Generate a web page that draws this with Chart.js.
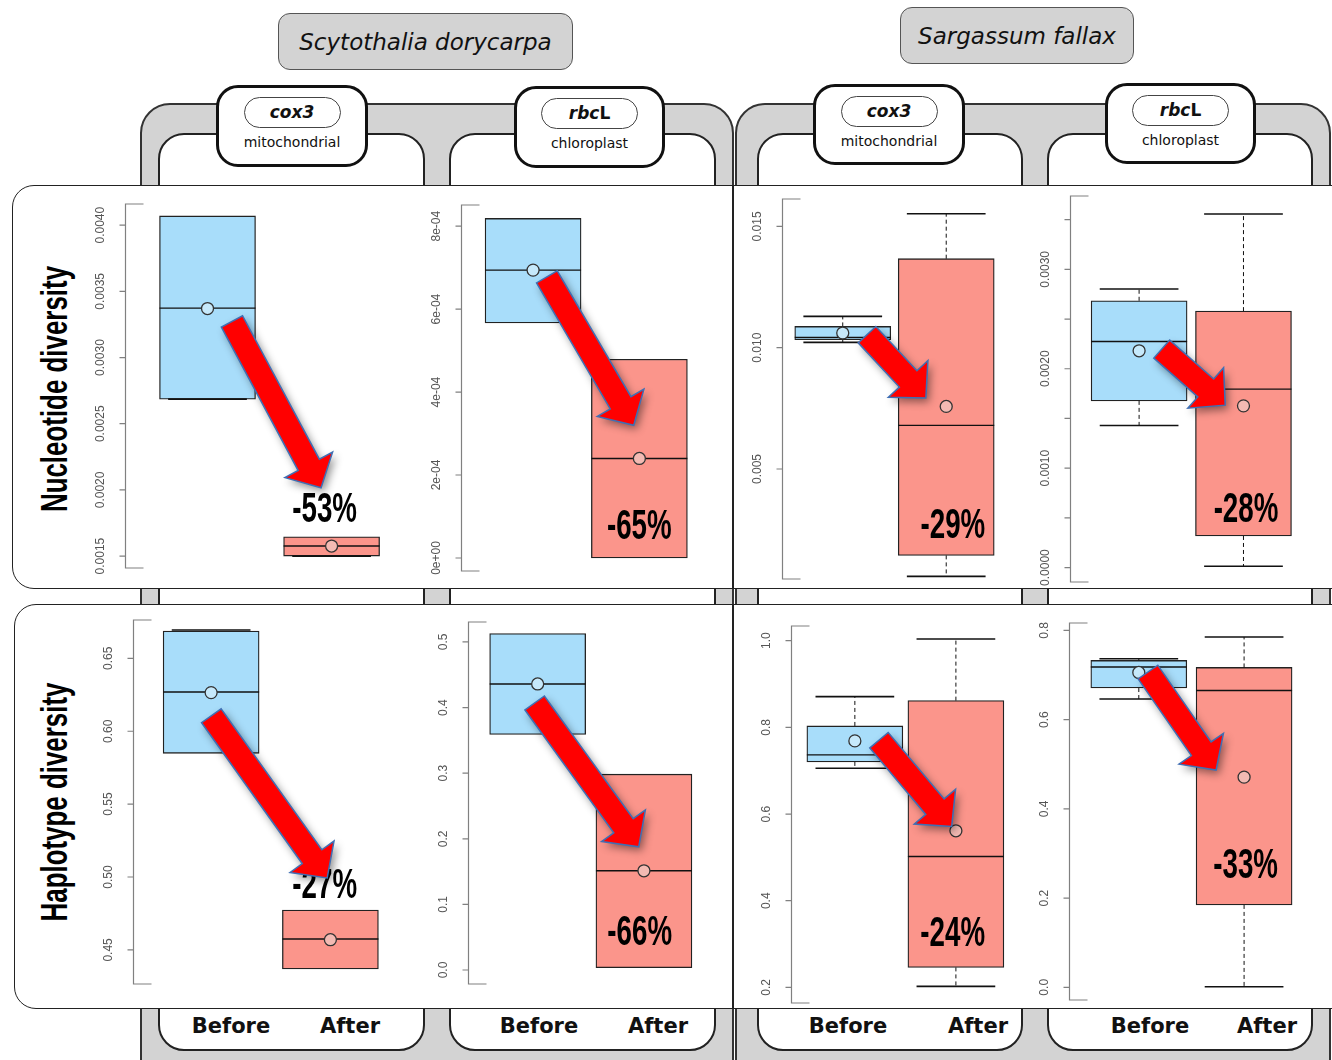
<!DOCTYPE html>
<html>
<head>
<meta charset="utf-8">
<script src="https://cdn.jsdelivr.net/npm/chart.js@4.4.1/dist/chart.umd.min.js"></script>
<style>
body { margin: 0; background: #fff; }
#page { position: relative; width: 1332px; height: 1060px; overflow: hidden; background: #fff; font-family: "DejaVu Sans", Verdana, sans-serif; }
.abs { position: absolute; box-sizing: border-box; }
.frame { background: #d3d3d3; border: 2px solid #333; border-radius: 30px; }
.cut { background: #fff; border: 2px solid #222; border-radius: 26px; }
.row { background: #fff; border: 1.5px solid #222; border-radius: 22px; }
.species { background: #d3d3d3; border: 1.5px solid #555; border-radius: 12px; font-style: italic; font-size: 23px; color: #111;
  display: flex; align-items: center; justify-content: center; }
.gene { background: #fff; border: 3px solid #111; border-radius: 22px; }
.pill { position: absolute; left: 50%; top: 9px; width: 97px; height: 31px; margin-left: -48.5px; box-sizing: border-box;
  border: 1.5px solid #444; border-radius: 16px; font-weight: bold; font-size: 17px; text-align: center; line-height: 28px; color: #111; }
.sub { position: absolute; left: 0; right: 0; top: 46px; text-align: center; font-size: 14px; color: #111; }
.ylab { position: absolute; white-space: nowrap; font-family: "Liberation Sans", Arial, sans-serif; font-weight: bold; font-size: 37px; color: #000;
  transform: translate(-50%, -50%) rotate(-90deg) scaleX(0.7); }
.grp { position: absolute; transform: translate(-50%, -50%); font-weight: bold; font-size: 21px; color: #111; white-space: nowrap; }
canvas { position: absolute; }
</style>
</head>
<body>
<div id="page">
  <!-- species frames -->
  <div class="abs frame" style="left:140px;top:103px;width:594px;height:990px"></div>
  <div class="abs frame" style="left:735px;top:103px;width:596px;height:990px"></div>
  <div class="abs cut" style="left:158px;top:133px;width:267px;height:918px"></div>
  <div class="abs cut" style="left:449px;top:133px;width:267px;height:918px"></div>
  <div class="abs cut" style="left:757px;top:133px;width:266px;height:918px"></div>
  <div class="abs cut" style="left:1047px;top:133px;width:266px;height:918px"></div>

  <!-- row panels -->
  <div class="abs row" style="left:12px;top:185px;width:1360px;height:404px"></div>
  <div class="abs row" style="left:14px;top:604px;width:1360px;height:405px"></div>
  <div class="abs" style="left:732px;top:185px;width:1.5px;height:404px;background:#222"></div>
  <div class="abs" style="left:732px;top:604px;width:1.5px;height:405px;background:#222"></div>

  <!-- titles -->
  <div class="abs species" style="left:278px;top:13px;width:295px;height:57px">Scytothalia dorycarpa</div>
  <div class="abs species" style="left:900px;top:7px;width:234px;height:57px">Sargassum fallax</div>

  <div class="abs gene" style="left:216px;top:85px;width:152px;height:82px"><div class="pill"><i>cox3</i></div><div class="sub">mitochondrial</div></div>
  <div class="abs gene" style="left:514px;top:86px;width:151px;height:82px"><div class="pill"><i>rbc</i>L</div><div class="sub">chloroplast</div></div>
  <div class="abs gene" style="left:813px;top:84px;width:152px;height:81px"><div class="pill"><i>cox3</i></div><div class="sub">mitochondrial</div></div>
  <div class="abs gene" style="left:1105px;top:83px;width:151px;height:81px"><div class="pill"><i>rbc</i>L</div><div class="sub">chloroplast</div></div>

  <div class="ylab" style="left:55px;top:389px">Nucleotide diversity</div>
  <div class="ylab" style="left:55px;top:802px">Haplotype diversity</div>

  <div class="grp" style="left:231px;top:1026px">Before</div><div class="grp" style="left:350px;top:1026px">After</div>
  <div class="grp" style="left:539px;top:1026px">Before</div><div class="grp" style="left:658px;top:1026px">After</div>
  <div class="grp" style="left:848px;top:1026px">Before</div><div class="grp" style="left:978px;top:1026px">After</div>
  <div class="grp" style="left:1150px;top:1026px">Before</div><div class="grp" style="left:1267px;top:1026px">After</div>
</div>
<script>
// panels: Nucleotide diversity (S. dorycarpa cox3, rbcL; S. fallax cox3, rbcL), then Haplotype diversity (same order)
const groups = ["Before", "After"];
const q1 = [[0.002686, 0.0015], [0.0005668, 0.0], [0.01033, 0.001439], [0.001677, 0.000318],
            [0.58484, 0.43689], [0.3589, 0.0035], [0.7203, 0.2461], [0.6708, 0.1846]];
const q3 = [[0.00407, 0.001646], [0.0008186, 0.0004792], [0.010878, 0.013669], [0.002684, 0.00258],
            [0.66873, 0.47736], [0.5127, 0.2985], [0.8033, 0.8617], [0.7327, 0.717]];
const medians = [[0.003373, 0.001576], [0.0006939, 0.0002397], [0.010425, 0.006797], [0.002275, 0.001795],
                 [0.62689, 0.45747], [0.436, 0.1512], [0.7365, 0.502], [0.7179, 0.6654]];
const means = [[0.00337, 0.001576], [0.000694, 0.00024], [0.010606, 0.00758], [0.002181, 0.001627],
               [0.6265, 0.457], [0.436, 0.1512], [0.7688, 0.5613], [0.7058, 0.4711]];
const whiskerLow = [[0.002686, 0.0015], [null, null], [0.010218, 0.000573], [0.00143, 0.000013],
                    [null, null], [null, null], [0.7058, 0.2023], [0.6461, 0.0013]];
const whiskerHigh = [[null, null], [null, null], [0.01129, 0.015523], [0.002802, 0.003557],
                     [0.6694, null], [null, null], [0.8709, 1.0039], [0.7365, 0.7852]];
const changes = ["-53%", "-65%", "-29%", "-28%", "-27%", "-66%", "-24%", "-33%"];
const changeAt = [[1.944, 0.001847], [1.999, 0.0000747], [2.064, 0.002634], [2.024, 0.000577],
                  [1.952, 0.4933], [1.960, 0.0559], [1.968, 0.3215], [2.015, 0.2706]];
const arrowFrom = [[1.197, 0.003273], [1.13, 0.0006777], [1.235, 0.010536], [1.217, 0.002198],
                   [1.002, 0.6106], [0.972, 0.407], [1.239, 0.7704], [1.087, 0.7067]];
const arrowTo = [[1.915, 0.002016], [1.947, 0.00032], [1.803, 0.007927], [1.825, 0.001634],
                 [1.973, 0.4994], [1.951, 0.1878], [1.958, 0.5711], [1.734, 0.4869]];
const yMin = [0.00141, -0.0000314, 0.000466, -0.000145, 0.4266, -0.0213, 0.164, -0.0285];
const yMax = [0.00416, 0.000851, 0.01613, 0.003738, 0.6763, 0.5304, 1.0339, 0.8166];
const tickValues = [
  [0.0015, 0.002, 0.0025, 0.003, 0.0035, 0.004],
  [0, 0.0002, 0.0004, 0.0006, 0.0008],
  [0.005, 0.01, 0.015],
  [0, 0.0005, 0.001, 0.0015, 0.002, 0.0025, 0.003, 0.0035],
  [0.45, 0.5, 0.55, 0.6, 0.65],
  [0, 0.1, 0.2, 0.3, 0.4, 0.5],
  [0.2, 0.4, 0.6, 0.8, 1.0],
  [0, 0.2, 0.4, 0.6, 0.8]
];
const tickLabels = [
  ["0.0015", "0.0020", "0.0025", "0.0030", "0.0035", "0.0040"],
  ["0e+00", "2e-04", "4e-04", "6e-04", "8e-04"],
  ["0.005", "0.010", "0.015"],
  ["0.0000", "", "0.0010", "", "0.0020", "", "0.0030", ""],
  ["0.45", "0.50", "0.55", "0.60", "0.65"],
  ["0.0", "0.1", "0.2", "0.3", "0.4", "0.5"],
  ["0.2", "0.4", "0.6", "0.8", "1.0"],
  ["0.0", "0.2", "0.4", "0.6", "0.8"]
];

// placement of each plot region on the page
const layout = [
  { left: 125, top: 204, bottom: 568, spacing: 125.5, xMin: 0.335 },
  { left: 461, top: 205, bottom: 571, spacing: 107.7, xMin: 0.322 },
  { left: 782, top: 199, bottom: 579, spacing: 105, xMin: 0.413 },
  { left: 1070, top: 196, bottom: 582, spacing: 105.8, xMin: 0.338 },
  { left: 133, top: 620, bottom: 984, spacing: 120.7, xMin: 0.345 },
  { left: 468, top: 622, bottom: 984, spacing: 107.7, xMin: 0.3445 },
  { left: 791, top: 626, bottom: 1003, spacing: 102.5, xMin: 0.368 },
  { left: 1069, top: 623, bottom: 1000, spacing: 106.7, xMin: 0.337 }
];
const PAD_L = 60, PAD_R = 4, PAD_T = 10, PAD_B = 10;
const boxColors = ["#a8ddfa", "#fb958b"];
const meanColors = ["#c6e9fb", "#f3bab3"];

function drawArrow(ctx, x0, y0, x1, y1) {
  const dx = x1 - x0, dy = y1 - y0, len = Math.hypot(dx, dy);
  const ux = dx / len, uy = dy / len, nx = -uy, ny = ux;
  const shaft = 12, head = 27, headLen = 26;
  const bx = x1 - ux * headLen, by = y1 - uy * headLen;
  ctx.save();
  ctx.beginPath();
  ctx.moveTo(x0 + nx * shaft, y0 + ny * shaft);
  ctx.lineTo(bx + nx * shaft, by + ny * shaft);
  ctx.lineTo(bx + nx * head, by + ny * head);
  ctx.lineTo(x1, y1);
  ctx.lineTo(bx - nx * head, by - ny * head);
  ctx.lineTo(bx - nx * shaft, by - ny * shaft);
  ctx.lineTo(x0 - nx * shaft, y0 - ny * shaft);
  ctx.closePath();
  ctx.shadowColor = "rgba(0,0,0,0.45)";
  ctx.shadowBlur = 8;
  ctx.shadowOffsetX = 3;
  ctx.shadowOffsetY = 4;
  ctx.fillStyle = "#ff0000";
  ctx.fill();
  ctx.shadowColor = "transparent";
  ctx.lineWidth = 1.5;
  ctx.lineJoin = "miter";
  ctx.strokeStyle = "#3f6fb4";
  ctx.stroke();
  ctx.restore();
}

const boxExtras = {
  id: "boxExtras",
  afterDatasetDraw(chart, args, opts) {
    if (args.meta.type !== "bar") return;
    const i = opts.panel, ctx = chart.ctx, ys = chart.scales.y;
    ctx.save();
    ctx.strokeStyle = "#111";
    args.meta.data.forEach((bar, j) => {
      const cx = bar.x, w = bar.width, cap = w * 0.41;
      const ends = [[whiskerLow[i][j], q1[i][j]], [whiskerHigh[i][j], q3[i][j]]];
      ends.forEach(([wv, edge]) => {
        if (wv === null) return;
        const pw = ys.getPixelForValue(wv), pe = ys.getPixelForValue(edge);
        if (Math.abs(pw - pe) > 1) {
          ctx.setLineDash([4, 3]);
          ctx.lineWidth = 1;
          ctx.beginPath(); ctx.moveTo(cx, pe); ctx.lineTo(cx, pw); ctx.stroke();
        }
        ctx.setLineDash([]);
        ctx.lineWidth = 1.6;
        ctx.beginPath(); ctx.moveTo(cx - cap, pw); ctx.lineTo(cx + cap, pw); ctx.stroke();
      });
      const pm = ys.getPixelForValue(medians[i][j]);
      ctx.lineWidth = 1.4;
      ctx.beginPath(); ctx.moveTo(cx - w / 2, pm); ctx.lineTo(cx + w / 2, pm); ctx.stroke();
    });
    ctx.restore();
  },
  afterDatasetsDraw(chart, args, opts) {
    const i = opts.panel, ctx = chart.ctx, xs = chart.scales.x, ys = chart.scales.y;
    // percent change label
    ctx.save();
    ctx.translate(xs.getPixelForValue(changeAt[i][0]), ys.getPixelForValue(changeAt[i][1]));
    ctx.scale(0.66, 1);
    ctx.font = 'bold 42px "Liberation Sans", Arial, sans-serif';
    ctx.fillStyle = "#000";
    ctx.textAlign = "center";
    ctx.textBaseline = "middle";
    ctx.fillText(changes[i], 0, 0);
    ctx.restore();
    drawArrow(ctx,
      xs.getPixelForValue(arrowFrom[i][0]), ys.getPixelForValue(arrowFrom[i][1]),
      xs.getPixelForValue(arrowTo[i][0]), ys.getPixelForValue(arrowTo[i][1]));
  },
  afterDraw(chart, args, opts) {
    // R-style bracket axis
    const i = opts.panel, ctx = chart.ctx, ys = chart.scales.y, a = chart.chartArea;
    const x0 = Math.round(a.left) + 0.5;
    ctx.save();
    ctx.strokeStyle = "#808080";
    ctx.lineWidth = 1.2;
    ctx.beginPath();
    ctx.moveTo(x0 + 18, a.top); ctx.lineTo(x0, a.top); ctx.lineTo(x0, a.bottom); ctx.lineTo(x0 + 18, a.bottom);
    tickValues[i].forEach(v => {
      const py = ys.getPixelForValue(v);
      ctx.moveTo(x0 - 6, py); ctx.lineTo(x0, py);
    });
    ctx.stroke();
    ctx.fillStyle = "#555";
    ctx.font = '12px "Liberation Sans", Arial, sans-serif';
    ctx.textAlign = "center";
    ctx.textBaseline = "middle";
    tickValues[i].forEach((v, k) => {
      if (!tickLabels[i][k]) return;
      ctx.save();
      ctx.translate(x0 - 25, ys.getPixelForValue(v));
      ctx.rotate(-Math.PI / 2);
      ctx.fillText(tickLabels[i][k], 0, 0);
      ctx.restore();
    });
    ctx.restore();
  }
};

const page = document.getElementById("page");
layout.forEach((L, i) => {
  const cw = Math.round(PAD_L + (3 - 2 * L.xMin) * L.spacing + PAD_R);
  const ch = Math.round(L.bottom - L.top + PAD_T + PAD_B);
  const xMax = L.xMin + (cw - PAD_L - PAD_R) / L.spacing;
  const canvas = document.createElement("canvas");
  canvas.width = cw;
  canvas.height = ch;
  canvas.style.left = (L.left - PAD_L) + "px";
  canvas.style.top = (L.top - PAD_T) + "px";
  page.appendChild(canvas);

  new Chart(canvas, {
    type: "bar",
    data: {
      datasets: [
        {
          type: "line",
          label: "mean",
          data: groups.map((g, j) => ({ x: j + 1, y: means[i][j] })),
          showLine: false,
          pointRadius: 6,
          pointHoverRadius: 6,
          pointBackgroundColor: meanColors,
          pointBorderColor: "#333",
          pointBorderWidth: 1.3,
          order: 0
        },
        {
          type: "bar",
          label: "interquartile range",
          data: groups.map((g, j) => ({ x: j + 1, y: [q1[i][j], q3[i][j]] })),
          backgroundColor: boxColors,
          borderColor: "#222",
          borderWidth: 1.3,
          borderSkipped: false,
          barThickness: 96,
          order: 1
        }
      ]
    },
    options: {
      responsive: false,
      animation: false,
      devicePixelRatio: 1,
      events: [],
      layout: { padding: { left: PAD_L, right: PAD_R, top: PAD_T, bottom: PAD_B } },
      plugins: { legend: { display: false }, tooltip: { enabled: false }, boxExtras: { panel: i } },
      scales: {
        x: { type: "linear", min: L.xMin, max: xMax, offset: false, display: false },
        y: { type: "linear", min: yMin[i], max: yMax[i], display: false }
      }
    },
    plugins: [boxExtras]
  });
});
</script>
</body>
</html>
